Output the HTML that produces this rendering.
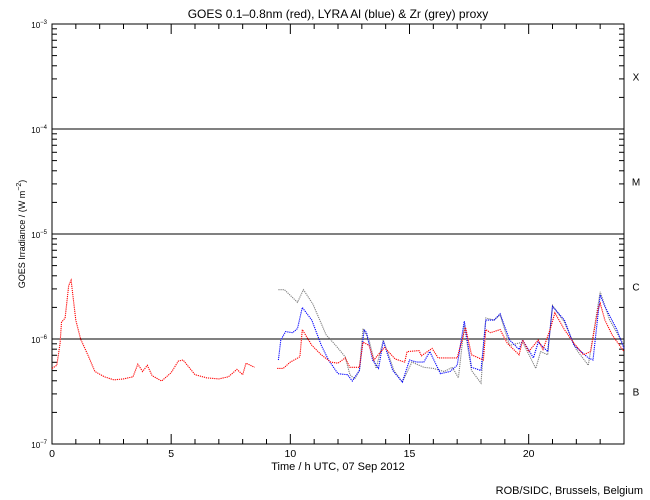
<!DOCTYPE html>
<html><head><meta charset="utf-8">
<style>
html,body{margin:0;padding:0;background:#fff;}
svg{display:block;font-family:"Liberation Sans",sans-serif;}
</style></head>
<body>
<svg id="chart" width="650" height="500" viewBox="0 0 650 500" xmlns="http://www.w3.org/2000/svg">
<rect x="0" y="0" width="650" height="500" fill="#fff"/>
<text x="338" y="18" font-size="12" text-anchor="middle">GOES 0.1–0.8nm (red), LYRA Al (blue) &amp; Zr (grey) proxy</text>
<g id="axes"></g>
<g id="series"></g>
<text x="338" y="470" font-size="11" text-anchor="middle">Time / h UTC, 07 Sep 2012</text>
<text transform="translate(25,234) rotate(-90)" font-size="9" text-anchor="middle">GOES Irradiance / (W m<tspan dy="-4" font-size="7">−2</tspan><tspan dy="4">)</tspan></text>
<text x="643" y="494" font-size="11" text-anchor="end">ROB/SIDC, Brussels, Belgium</text>
</svg>
<script>
// data: hours and log10(irradiance W/m^2)
const redT=[0,0.2,0.34,0.4,0.55,0.7,0.8,1.0,1.2,1.5,1.8,2.2,2.6,3.0,3.4,3.6,3.8,4.0,4.2,4.6,5.0,5.3,5.5,6.0,6.5,7.0,7.4,7.76,8.0,8.14,8.5,null,9.45,9.7,10.0,10.4,10.5,10.9,11.3,11.7,12.0,12.3,12.5,12.9,13.05,13.3,13.5,13.95,14.4,14.8,14.9,15.4,15.5,15.95,16.2,17.0,17.35,17.6,18.1,18.2,18.4,18.8,19.1,19.6,19.75,20.0,20.4,20.6,20.9,21.1,21.5,21.9,22.3,22.6,22.9,23.0,23.2,23.5,24];
const redLog=[-6.28,-6.25,-6.04,-5.84,-5.80,-5.49,-5.44,-5.82,-6.00,-6.15,-6.31,-6.36,-6.39,-6.38,-6.36,-6.24,-6.31,-6.25,-6.35,-6.40,-6.32,-6.21,-6.20,-6.34,-6.37,-6.38,-6.36,-6.29,-6.34,-6.23,-6.27,null,-6.28,-6.28,-6.22,-6.17,-5.91,-6.06,-6.15,-6.22,-6.23,-6.18,-6.27,-6.27,-6.03,-6.06,-6.20,-6.08,-6.19,-6.22,-6.12,-6.11,-6.16,-6.09,-6.18,-6.18,-5.89,-6.15,-6.20,-5.91,-5.94,-5.91,-6.04,-6.15,-6.01,-6.12,-6.01,-6.10,-5.91,-5.75,-5.91,-6.04,-6.15,-6.12,-5.72,-5.66,-5.82,-5.96,-6.12];
const blueT=[9.5,9.6,9.8,10.1,10.3,10.5,10.9,11.3,11.6,12.0,12.4,12.6,12.9,13.1,13.2,13.45,13.7,13.9,14.3,14.7,15.0,15.3,15.6,15.85,16.3,16.7,17.0,17.3,17.6,18.0,18.2,18.55,18.8,19.2,19.6,19.75,20.2,20.4,20.8,21.0,21.5,21.9,22.5,22.7,23.0,23.2,23.7,24];
const blueLog=[-6.20,-6.01,-5.93,-5.94,-5.90,-5.70,-5.82,-6.06,-6.20,-6.33,-6.34,-6.40,-6.30,-5.91,-5.94,-6.20,-6.28,-6.02,-6.30,-6.41,-6.20,-6.22,-6.22,-6.12,-6.33,-6.31,-6.25,-5.83,-6.27,-6.30,-5.82,-5.82,-5.76,-6.01,-6.10,-6.01,-6.18,-6.03,-6.12,-5.69,-5.82,-6.06,-6.18,-6.20,-5.58,-5.69,-5.91,-6.09];
const greyT=[9.5,9.75,10.3,10.55,10.95,11.5,11.9,12.3,12.5,12.7,12.9,13.05,13.3,13.6,13.9,14.35,14.7,15.1,15.6,16.0,16.45,16.8,17.05,17.3,17.6,18.0,18.2,18.55,18.8,19.2,19.75,20.3,20.5,20.8,21.0,21.5,22.0,22.5,23.0,23.4,24];
const greyLog=[-5.53,-5.53,-5.65,-5.53,-5.67,-5.96,-6.06,-6.17,-6.34,-6.38,-6.30,-5.90,-6.01,-6.28,-6.01,-6.30,-6.41,-6.22,-6.27,-6.28,-6.31,-6.27,-6.37,-5.87,-6.30,-6.42,-5.80,-5.82,-5.77,-6.06,-6.03,-6.28,-6.12,-6.15,-5.68,-5.84,-6.10,-6.25,-5.55,-5.82,-6.06];
const yExps=[-3,-4,-5,-6,-7];
const xTickLabels=[0,5,10,15,20];
const classLabels=["X","M","C","B"];

const X0=52,X1=624,Y0=24,Y1=444;
const xs=t=>X0+(t/24)*(X1-X0);
const ys=l=>Y0+(-3-l)/4*(Y1-Y0);
const NS="http://www.w3.org/2000/svg";
const axes=document.getElementById('axes'), ser=document.getElementById('series');
function mk(tag,attrs,parent){const e=document.createElementNS(NS,tag);for(const k in attrs)e.setAttribute(k,attrs[k]);parent.appendChild(e);return e;}

let fr=mk('rect',{x:X0,y:Y0,width:X1-X0,height:Y1-Y0,fill:'none',stroke:'#000','stroke-width':1},axes);


yExps.forEach((e,i)=>{
  const y=ys(e);
  if(i>0&&i<yExps.length-1){
    const gl=mk('line',{x1:X0,x2:X1,y1:y,y2:y,stroke:'#000','stroke-width':1},axes);
    
    
  }
  mk('line',{x1:X0,x2:X0+10,y1:y,y2:y,stroke:'#000'},axes);
  mk('line',{x1:X1-10,x2:X1,y1:y,y2:y,stroke:'#000'},axes);
  const t=mk('text',{x:X0-5,y:y+4,'font-size':8,'text-anchor':'end'},axes);
  t.innerHTML='10<tspan dy="-4" font-size="6">'+String(e).replace('-','−')+'</tspan>';
  
  
  if(i<yExps.length-1){
    for(let m=2;m<10;m++){
      const ym=ys(e-1+Math.log10(m));
      mk('line',{x1:X0,x2:X0+5,y1:ym,y2:ym,stroke:'#000'},axes);
      mk('line',{x1:X1-5,x2:X1,y1:ym,y2:ym,stroke:'#000'},axes);
    }
    const c=mk('text',{x:636,y:ys(e-0.5)+4,'font-size':10,'text-anchor':'middle'},axes);
    c.textContent=classLabels[i];
    
    
  }
});
for(let h=0;h<=24;h++){
  const x=xs(h),L=(h%5===0)?10:5;
  mk('line',{x1:x,x2:x,y1:Y1,y2:Y1-L,stroke:'#000'},axes);
  mk('line',{x1:x,x2:x,y1:Y0,y2:Y0+L,stroke:'#000'},axes);
}
xTickLabels.forEach(v=>{
  const t=mk('text',{x:xs(v),y:457,'font-size':10.5,'text-anchor':'middle'},axes);
  t.textContent=v;
  
  
});
function series(T,L,color,name){
  let segs=[],cur=[];
  T.forEach((t,i)=>{if(t===null||L[i]===null){if(cur.length)segs.push(cur);cur=[];}else cur.push(xs(t).toFixed(1)+','+ys(L[i]).toFixed(1));});
  if(cur.length)segs.push(cur);
  segs.forEach(s=>{
    const p=mk('polyline',{points:s.join(' '),fill:'none',stroke:color,'stroke-width':1.1,'stroke-dasharray':'1.2 0.9'},ser);
    
    
  });
}
series(greyT,greyLog,'#808080','zr-proxy-series');
series(blueT,blueLog,'#0000ff','al-proxy-series');
series(redT,redLog,'#ff0000','goes-series');
</script>
</body></html>
